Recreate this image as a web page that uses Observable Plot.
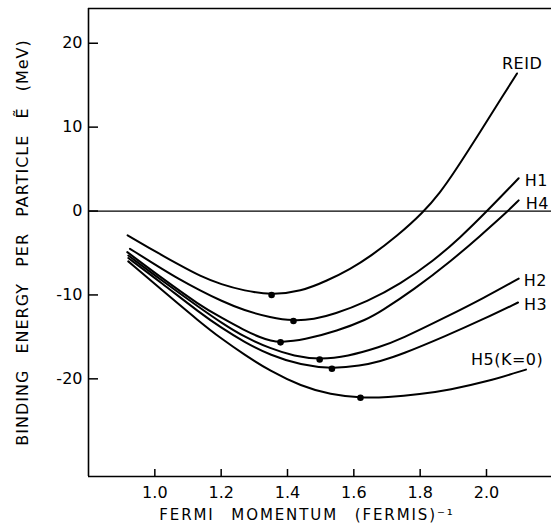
<!DOCTYPE html>
<html>
<head>
<meta charset="utf-8">
<script src="https://cdn.jsdelivr.net/npm/d3@7"></script>
<script src="https://cdn.jsdelivr.net/npm/@observablehq/plot@0.6"></script>
<style>
  body { margin: 0; background: #fff; }
  svg { display: block; }
</style>
</head>
<body>
<div id="chart"></div>
<script>
// Axis ticks and extents (Fermi momentum in fm^-1, energy in MeV)
const xTicks = [1.0, 1.2, 1.4, 1.6, 1.8, 2.0];
const yTicks = [20, 10, 0, -10, -20];
const xDomain = [0.8, 2.196];
const yDomain = [-31.64, 24.14];

const seriesNames = ["REID", "H1", "H4", "H2", "H3", "H5(K=0)"];

// Binding energy per particle vs Fermi momentum, one [kF, E] list per potential
const reid = [[0.918, -2.9], [1.018, -5.2], [1.068, -6.3], [1.138, -7.8], [1.20, -8.75], [1.269, -9.5],
  [1.352, -10.0], [1.44, -9.6], [1.52, -8.3], [1.59, -6.9], [1.65, -5.4], [1.73, -3.0], [1.811, -0.1],
  [1.86, 2.2], [1.901, 4.5], [1.982, 9.5], [2.052, 13.9], [2.092, 16.4]];
const h1 = [[0.925, -4.5], [1.018, -6.8], [1.068, -8.0], [1.138, -9.5], [1.20, -10.7], [1.269, -11.85],
  [1.349, -12.7], [1.418, -13.1], [1.48, -12.9], [1.54, -12.3], [1.64, -10.8], [1.74, -8.7],
  [1.841, -5.9], [1.92, -3.2], [2.002, 0], [2.097, 3.9]];
const h4 = [[0.917, -4.9], [1.018, -7.9], [1.138, -11.3], [1.20, -12.7], [1.269, -14.2], [1.32, -15.1],
  [1.349, -15.45], [1.379, -15.65], [1.45, -15.35], [1.55, -14.3], [1.64, -12.9], [1.68, -12.0],
  [1.78, -9.4], [1.896, -5.87], [1.98, -3.0], [2.062, -0.1], [2.097, 1.27]];
const h2 = [[0.92, -5.3], [1.018, -8.2], [1.138, -11.6], [1.20, -13.3], [1.269, -15.0], [1.349, -16.4],
  [1.42, -17.3], [1.497, -17.7], [1.58, -17.35], [1.68, -16.2], [1.74, -15.3], [1.88, -12.6],
  [1.99, -10.4], [2.097, -8.05]];
const h3 = [[0.92, -5.6], [1.018, -8.5], [1.138, -12.2], [1.20, -13.9], [1.269, -15.6], [1.349, -17.2],
  [1.44, -18.35], [1.534, -18.8], [1.62, -18.45], [1.68, -17.9], [1.74, -17.15], [1.88, -14.85],
  [1.99, -12.9], [2.095, -10.9]];
const h5 = [[0.92, -6.0], [1.018, -9.3], [1.138, -13.3], [1.20, -15.2], [1.269, -17.1], [1.349, -19.1],
  [1.44, -20.85], [1.53, -21.9], [1.62, -22.26], [1.70, -22.2], [1.80, -21.85], [1.89, -21.3],
  [2.00, -20.35], [2.119, -18.9]];

// Saturation (minimum) points marked on each curve
const minKF = [1.352, 1.418, 1.379, 1.497, 1.534, 1.62];
const minE = [-10.0, -13.1, -15.65, -17.7, -18.8, -22.26];

const xTitle = "FERMI MOMENTUM (FERMIS)\u207B\u00B9";
const yTitle = "BINDING ENERGY PER PARTICLE \u1EBC (MeV)";

// ---- build tables ----
const curveLists = [reid, h1, h4, h2, h3, h5];
const curves = curveLists.flatMap((pts, i) => pts.map(([x, y]) => ({name: seriesNames[i], x, y})));
const minima = seriesNames.map((name, i) => ({name, x: minKF[i], y: minE[i]}));
const ends = curveLists.map((pts, i) => ({name: seriesNames[i], x: pts[pts.length - 1][0], y: pts[pts.length - 1][1]}));

// label placement relative to each curve's end
const labelOffset = {
  "REID": {dx: -15, dy: -10},
  "H1": {dx: 6, dy: 3},
  "H4": {dx: 7, dy: 3},
  "H2": {dx: 5, dy: 2},
  "H3": {dx: 6, dy: 2},
  "H5(K=0)": {dx: -55, dy: -10}
};

const labelMarks = ends.map(e => Plot.text([e], {
  x: "x", y: "y", text: "name",
  textAnchor: "start", dx: labelOffset[e.name].dx, dy: labelOffset[e.name].dy,
  fontSize: 16, fill: "black"
}));

const chart = Plot.plot({
  width: 551,
  height: 527,
  marginLeft: 88,
  marginRight: 0,
  marginTop: 8,
  marginBottom: 51,
  x: {domain: xDomain},
  y: {domain: yDomain},
  style: {fontFamily: "DejaVu Sans", fontSize: "16px", color: "black", background: "white"},
  marks: [
    // frame: left, top, bottom (right side open)
    Plot.ruleX([xDomain[0]], {stroke: "black", strokeWidth: 1.6}),
    Plot.ruleY([yDomain[1], yDomain[0]], {stroke: "black", strokeWidth: 1.6}),
    // zero line
    Plot.ruleY([0], {stroke: "black", strokeWidth: 1.3}),
    // inward ticks
    Plot.axisY({ticks: yTicks, tickSize: -10, tickFormat: () => "", label: null, strokeWidth: 1.5}),
    Plot.axisX({ticks: xTicks, tickSize: -7, tickFormat: () => "", label: null, strokeWidth: 1.5}),
    // tick labels
    Plot.axisY({ticks: yTicks, tickSize: 0, tickPadding: 6, tickFormat: d => String(d), label: null, fontSize: 16}),
    Plot.axisX({ticks: xTicks, tickSize: 0, tickPadding: 10, tickFormat: d => d.toFixed(1), label: null, fontSize: 16}),
    // curves
    Plot.line(curves, {x: "x", y: "y", z: "name", curve: "basis", stroke: "black", strokeWidth: 2}),
    Plot.dot(minima, {x: "x", y: "y", r: 3.3, fill: "black"}),
    ...labelMarks,
    // axis titles
    Plot.text([yTitle], {text: d => d, frameAnchor: "left", textAnchor: "middle", lineAnchor: "middle",
      rotate: -90, dx: -66, fontSize: 16, fill: "black"}),
    Plot.text([xTitle], {text: d => d, frameAnchor: "bottom", textAnchor: "middle", lineAnchor: "middle",
      dx: -13, dy: 39, fontSize: 15, fill: "black"})
  ]
});

// spaced-out lettering for the axis titles and curve labels
const svg = d3.select(chart);
svg.selectAll("text").filter(function () { return this.textContent === yTitle; })
  .style("letter-spacing", "1px").style("word-spacing", "10px");
svg.selectAll("text").filter(function () { return this.textContent === xTitle; })
  .style("letter-spacing", "1.9px").style("word-spacing", "10px");
svg.selectAll("text").filter(function () { return seriesNames.includes(this.textContent); })
  .style("letter-spacing", "0.5px");

document.getElementById("chart").appendChild(chart);
</script>
</body>
</html>
